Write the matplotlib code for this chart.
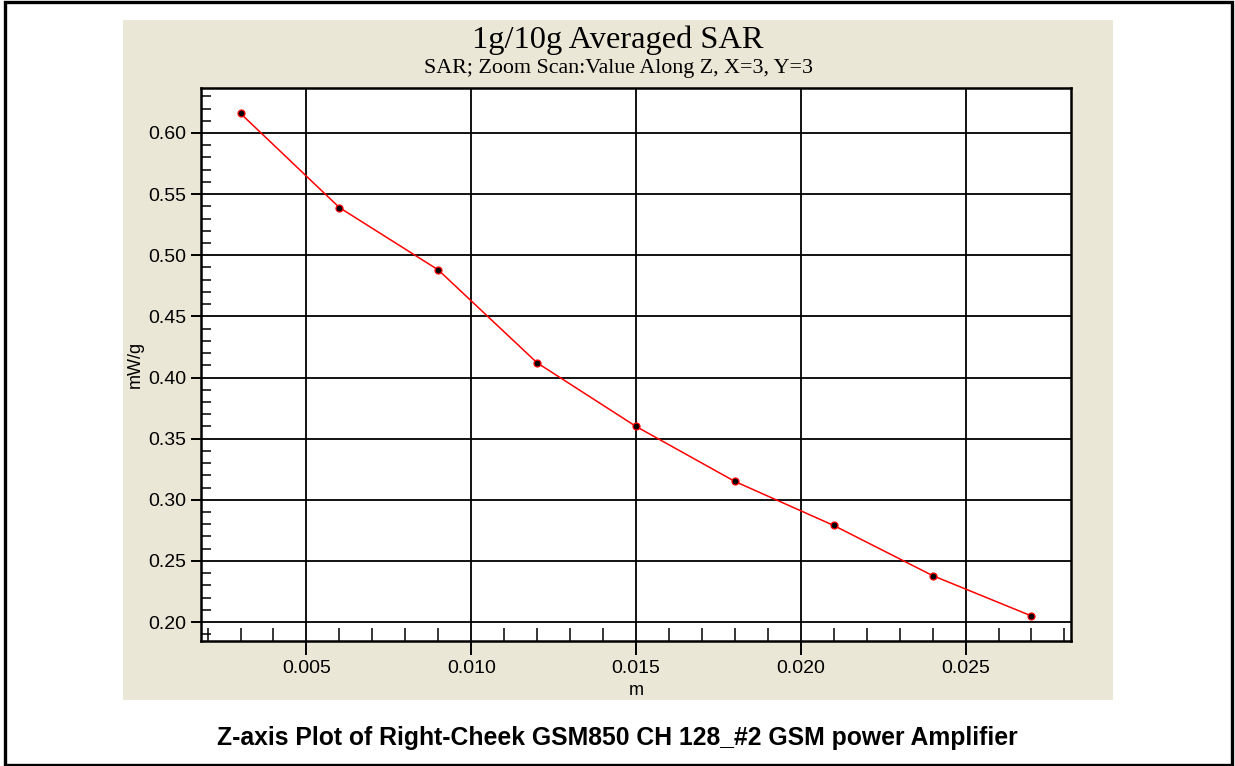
import matplotlib.pyplot as plt
from matplotlib.patches import Rectangle
from matplotlib.ticker import MultipleLocator, FormatStrFormatter

plt.rcParams["font.family"] = ["Liberation Sans", "DejaVu Sans"]

# data
depth_m = [0.003, 0.006, 0.009, 0.012, 0.015, 0.018, 0.021, 0.024, 0.027]
sar_mw_g = [0.616, 0.539, 0.488, 0.412, 0.360, 0.315, 0.279, 0.238, 0.205]

title = "1g/10g Averaged SAR"
subtitle = "SAR; Zoom Scan:Value Along Z, X=3, Y=3"
caption = "Z-axis Plot of Right-Cheek GSM850 CH 128_#2 GSM power Amplifier"

W, H = 1235, 766
fig = plt.figure(figsize=(W / 100, H / 100), dpi=100)
fig.patch.set_facecolor("white")

# beige panel behind the plot
fig.patches.append(Rectangle((123 / W, 1 - 700 / H), 990 / W, 680 / H,
                             transform=fig.transFigure, facecolor="#ebe7d7",
                             edgecolor="none", zorder=-5))
# outer frame
fig.patches.append(Rectangle((5 / W, 1.5 / H), 1227 / W, 762.5 / H,
                             transform=fig.transFigure, facecolor="none",
                             edgecolor="black", linewidth=2.4, zorder=5))

ax = fig.add_axes([201 / W, 1 - 641 / H, 870 / W, 553 / H])
ax.set_facecolor("white")

ax.plot(depth_m, sar_mw_g, color="red", linewidth=1.1, zorder=3)
ax.plot(depth_m, sar_mw_g, linestyle="none", marker="o", markersize=5,
        markerfacecolor="black", markeredgecolor="red", markeredgewidth=0.9,
        zorder=4)

ax.set_xlim(0.0018, 0.0282)
ax.set_ylim(0.1845, 0.6368)

ax.xaxis.set_major_locator(MultipleLocator(0.005))
ax.xaxis.set_minor_locator(MultipleLocator(0.001))
ax.yaxis.set_major_locator(MultipleLocator(0.05))
ax.yaxis.set_minor_locator(MultipleLocator(0.01))
ax.xaxis.set_major_formatter(FormatStrFormatter("%.3f"))
ax.yaxis.set_major_formatter(FormatStrFormatter("%.2f"))

ax.grid(True, which="major", color="black", linewidth=1.3, zorder=1)
ax.set_axisbelow(True)

ax.tick_params(axis="x", which="major", direction="out", length=10, width=1.4,
               labelsize=14, pad=4)
ax.tick_params(axis="x", which="minor", direction="in", length=9.5, width=1.1)
ax.tick_params(axis="y", which="major", direction="out", length=7.5, width=1.4,
               labelsize=14, pad=3)
ax.tick_params(axis="y", which="minor", direction="in", length=7.5, width=1.1)

for s in ax.spines.values():
    s.set_linewidth(1.8)

ax.set_xlabel("m", fontsize=13, labelpad=3)
ax.set_ylabel("mW/g", fontsize=13, labelpad=3)

fig.text(618 / W, 1 - 40 / H, title, ha="center", va="center",
         fontsize=23.3, family="Liberation Serif")
fig.text(618 / W, 1 - 69 / H, subtitle, ha="center", va="center",
         fontsize=15.8, family="Liberation Serif")
fig.text(617 / W, 1 - 738 / H, caption, ha="center", va="center",
         fontsize=17.8, fontweight="bold")

fig.savefig("out.png", dpi=100)
